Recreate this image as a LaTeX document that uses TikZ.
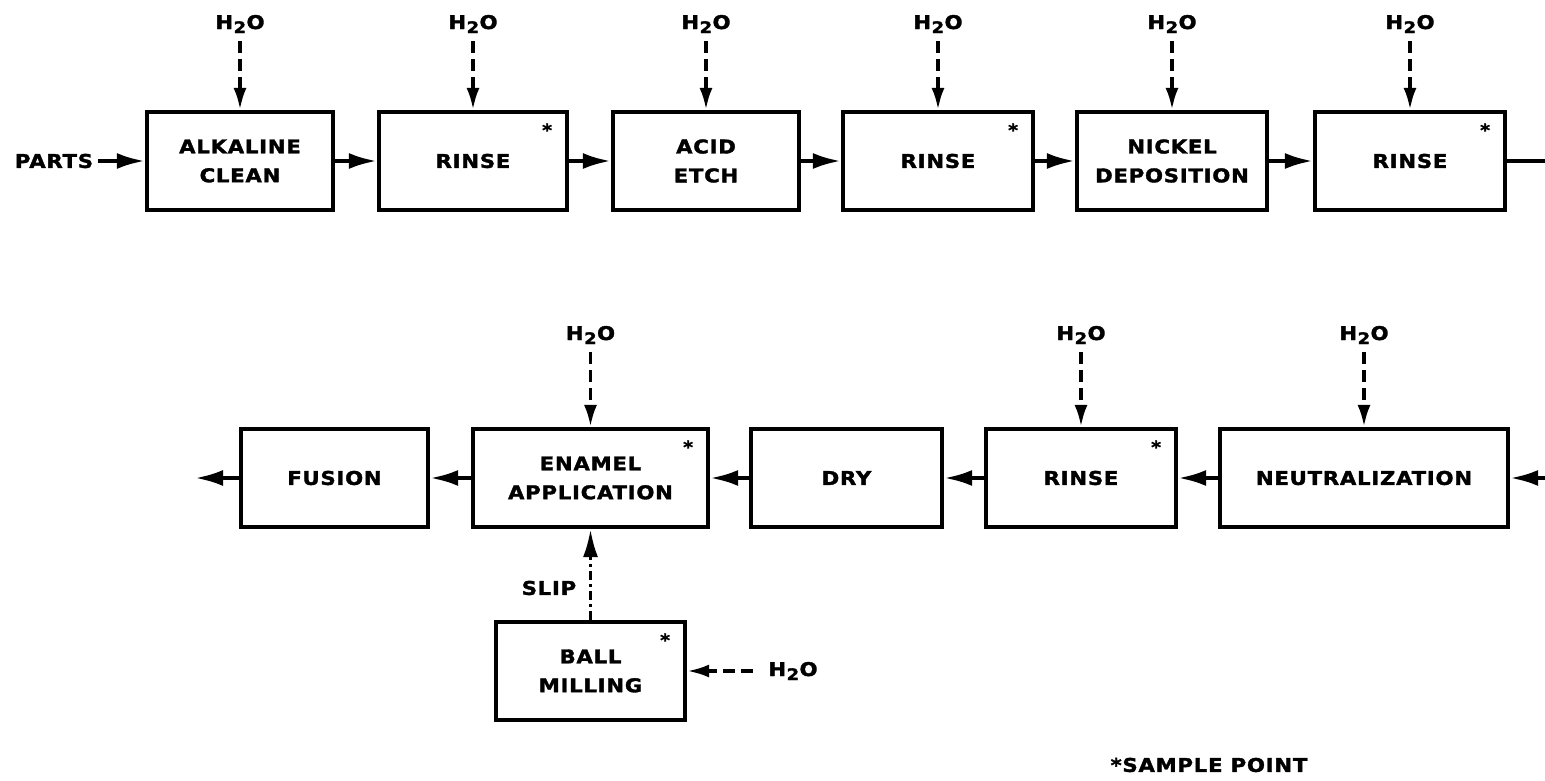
\documentclass[tikz,border=0pt]{standalone}
\usepackage{fontspec}
\setmainfont{DejaVu Sans}[FakeStretch=1.12, LetterSpace=4, BoldFeatures={FakeBold=1.8}]
\usetikzlibrary{arrows.meta}
\newcommand\HtwoO{H\kern0.5bp\raisebox{-4bp}{\fontsize{16}{16}\selectfont 2}\kern0.5bp O}
\begin{document}
\begin{tikzpicture}[x=1bp,y=-1bp,
  box/.style={draw, line width=4.2bp, rectangle, minimum height=98bp, align=center,
    font=\bfseries\fontsize{19}{29}\selectfont, inner sep=0pt},
  lab/.style={font=\bfseries\fontsize{19}{22}\selectfont, inner sep=1bp},
  flow/.style={line width=4bp, -{Latex[length=28bp,width=16bp]}},
  water/.style={line width=3.6bp, dash pattern=on 12bp off 6bp, -{Latex[length=22bp,width=13bp]}},
  slipline/.style={line width=3.4bp, dash pattern=on 9bp off 4bp on 3bp off 4bp, -{Latex[length=28bp,width=15bp]}},
  astk/.style={font=\bfseries\fontsize{17}{17}\selectfont, inner sep=0pt}]
\useasboundingbox (0,0) rectangle (1545,780);

% top row
\node[box, minimum width=186bp] (a1) at (240,161) {ALKALINE\\CLEAN};
\node[box, minimum width=188bp] (a2) at (473,161) {RINSE};
\node[box, minimum width=186bp] (a3) at (706,161) {ACID\\ETCH};
\node[box, minimum width=190bp] (a4) at (938,161) {RINSE};
\node[box, minimum width=190bp] (a5) at (1172,161) {NICKEL\\DEPOSITION};
\node[box, minimum width=190bp] (a6) at (1410,161) {RINSE};

% bottom row
\node[box, minimum width=187bp] (fus) at (334.5,478) {FUSION};
\node[box, minimum width=235bp] (ena) at (590.5,478) {ENAMEL\\APPLICATION};
\node[box, minimum width=191bp] (dry) at (846.5,478) {DRY};
\node[box, minimum width=190bp] (rin) at (1081,478) {RINSE};
\node[box, minimum width=288bp] (neu) at (1364,478) {NEUTRALIZATION};
\node[box, minimum width=189bp] (ball) at (590.5,671) {BALL\\MILLING};

% sample point asterisks
\foreach \b in {a2,a4,a6,ena,rin,ball}
  \node[astk] at ([shift={(-22,20)}]\b.north east) {*};

% water inputs
\foreach \b/\x/\y in {a1/240/24,a2/473/24,a3/706/24,a4/938/24,a5/1172/24,a6/1410/24,
                      ena/590.5/335,rin/1081/335,neu/1364/335}{
  \node[lab] (w\b) at (\x,\y) {\HtwoO};
  \draw[water, shorten <=7bp] (w\b) -- (\b);
}
\node[lab] (wball) at (793,671) {\HtwoO};
\draw[water, shorten <=14bp] (wball.west) -- (ball.east);

% labels
\node[lab] (parts) at (54,161) {PARTS};
\node[lab] (slip) at (549,588) {SLIP};
\node[lab] (samp) at (1209,765) {*SAMPLE POINT};
\coordinate (out) at (195,478);

% flow connectors
\draw[flow, shorten <=4bp] (parts) -- (a1);
\draw[flow] (a1) -- (a2);
\draw[flow] (a2) -- (a3);
\draw[flow] (a3) -- (a4);
\draw[flow] (a4) -- (a5);
\draw[flow] (a5) -- (a6);
\draw[flow] (a6.east) -- ++(60,0) |- (neu.east);
\draw[flow] (neu) -- (rin);
\draw[flow] (rin) -- (dry);
\draw[flow] (dry) -- (ena);
\draw[flow] (ena) -- (fus);
\draw[flow] (fus) -- (out);
\draw[slipline] (ball) -- (ena);
\end{tikzpicture}
\end{document}
